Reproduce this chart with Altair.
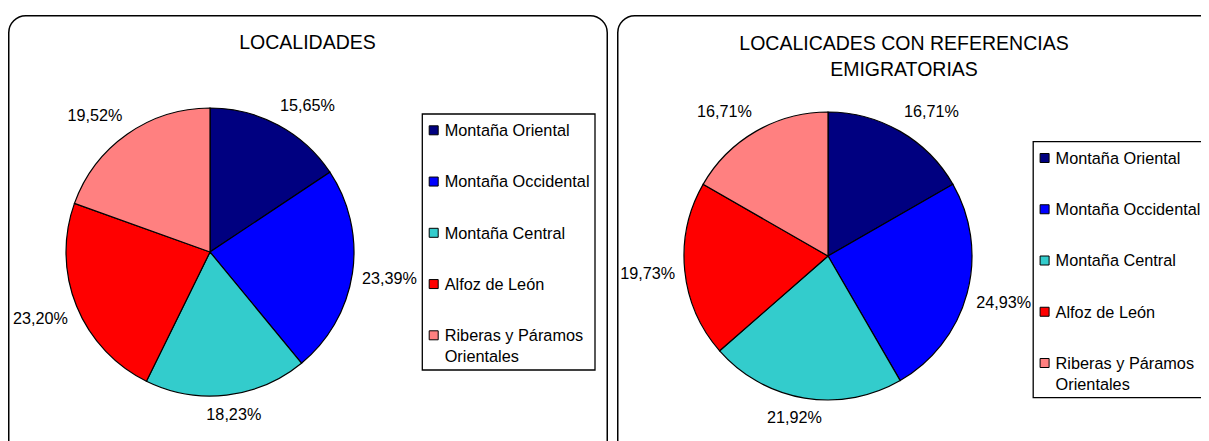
import altair as alt
import pandas as pd

# ---- data -------------------------------------------------------------
categories = [
    "Montaña Oriental",
    "Montaña Occidental",
    "Montaña Central",
    "Alfoz de León",
    "Riberas y Páramos Orientales",
]
localidades = [15.65, 23.39, 18.23, 23.20, 19.52]
emigratorias = [16.71, 24.93, 21.92, 19.73, 16.71]
colors = ["#000080", "#0000FF", "#33CCCC", "#FF0000", "#FF8080"]
title_left = ["LOCALIDADES"]
title_right = ["LOCALICADES CON REFERENCIAS", "EMIGRATORIAS"]

FONT = "Liberation Sans"
R = 144          # pie radius, px
ROW = 51.25      # legend row pitch, px
COLOR = alt.Scale(domain=categories, range=colors)


def panel(values, title_lines, width, height, cx, cy, tx, ty,
          lgx, lgy, lgw, lgh, border_x2):
    df = pd.DataFrame({
        "category": categories,
        "value": values,
        "idx": list(range(len(categories))),
    })
    base = alt.Chart(df)
    one = alt.Data(values=[{}])

    border = alt.Chart(one).mark_rect(
        cornerRadius=17, fillOpacity=0, stroke="black", strokeWidth=1.5,
        clip=True,
    ).encode(
        x=alt.value(0.75), x2=alt.value(border_x2),
        y=alt.value(0.75), y2=alt.value(height + 40),
    )

    arcs = base.mark_arc(radius=R, stroke="black", strokeWidth=1.2).encode(
        theta=alt.Theta("value:Q", stack=True),
        color=alt.Color("category:N", scale=COLOR, legend=None),
        order=alt.Order("idx:Q", sort="ascending"),
        x=alt.value(cx), y=alt.value(cy),
    )

    labels = base.transform_joinaggregate(
        total="sum(value)"
    ).transform_window(
        cum="sum(value)", sort=[alt.SortField(field="idx", order="ascending")],
        frame=[None, 0],
    ).transform_calculate(
        ang="2*PI*(datum.cum - datum.value/2)/datum.total"
    ).transform_calculate(
        lx=f"{cx} + {1.08 * R}*sin(datum.ang) + 25.5*clamp(2*sin(datum.ang), -1, 1)",
        ly=f"{cy} - {1.08 * R}*cos(datum.ang) - 9*clamp(3*cos(datum.ang), -1, 1)",
        label="replace(format(datum.value, '.2f'), '.', ',') + '%'",
    ).mark_text(
        font=FONT, fontSize=16.2, color="black", align="center", baseline="middle"
    ).encode(
        x=alt.X("lx:Q", scale=None, axis=None),
        y=alt.Y("ly:Q", scale=None, axis=None),
        text="label:N",
    )

    title = alt.Chart(one).mark_text(
        text=title_lines, font=FONT, fontSize=19.5, lineHeight=26,
        align="center", baseline="alphabetic", color="black",
    ).encode(x=alt.value(tx), y=alt.value(ty))

    # legend drawn as marks so that it can be clipped by the panel
    legend_box = alt.Chart(one).mark_rect(
        fill="white", stroke="black", strokeWidth=1.3, clip=True,
    ).encode(
        x=alt.value(lgx), x2=alt.value(lgx + lgw),
        y=alt.value(lgy), y2=alt.value(lgy + lgh),
    )

    leg = base.transform_calculate(
        yy=f"{lgy + 16.3} + {ROW}*datum.idx",
        yt=f"{lgy + 16.3 + 5.8} + {ROW}*datum.idx",
        txt="replace(datum.category, 'Páramos ', 'Páramos\\n')",
    )
    leg_sym = leg.mark_square(
        size=81, filled=True, opacity=1, stroke="black", strokeWidth=1,
        clip=True,
    ).encode(
        x=alt.value(lgx + 11.4),
        y=alt.Y("yy:Q", scale=None, axis=None),
        color=alt.Color("category:N", scale=COLOR, legend=None),
    )
    leg_txt = leg.mark_text(
        font=FONT, fontSize=16.3, color="black", align="left",
        baseline="alphabetic", lineBreak="\n", lineHeight=21, clip=True,
    ).encode(
        x=alt.value(lgx + 22.4),
        y=alt.Y("yt:Q", scale=None, axis=None),
        text="txt:N",
    )

    return alt.layer(
        border, arcs, legend_box, leg_sym, leg_txt, labels, title
    ).properties(width=width, height=height)


H = 426
left = panel(localidades, title_left, 600, H, 202, 237, 299.5, 34,
             414.3, 99, 172.7, 256, 599.25)
right = panel(emigratorias, title_right, 584, H, 211, 241, 287, 35,
              416.2, 126.7, 190, 256, 640)

chart = alt.hconcat(left, right, spacing=9).properties(
    padding={"left": 0, "top": 7, "right": 0, "bottom": 0}
).configure_view(strokeWidth=0)

chart.save("out.html", embed_options={"renderer": "svg", "actions": False})
